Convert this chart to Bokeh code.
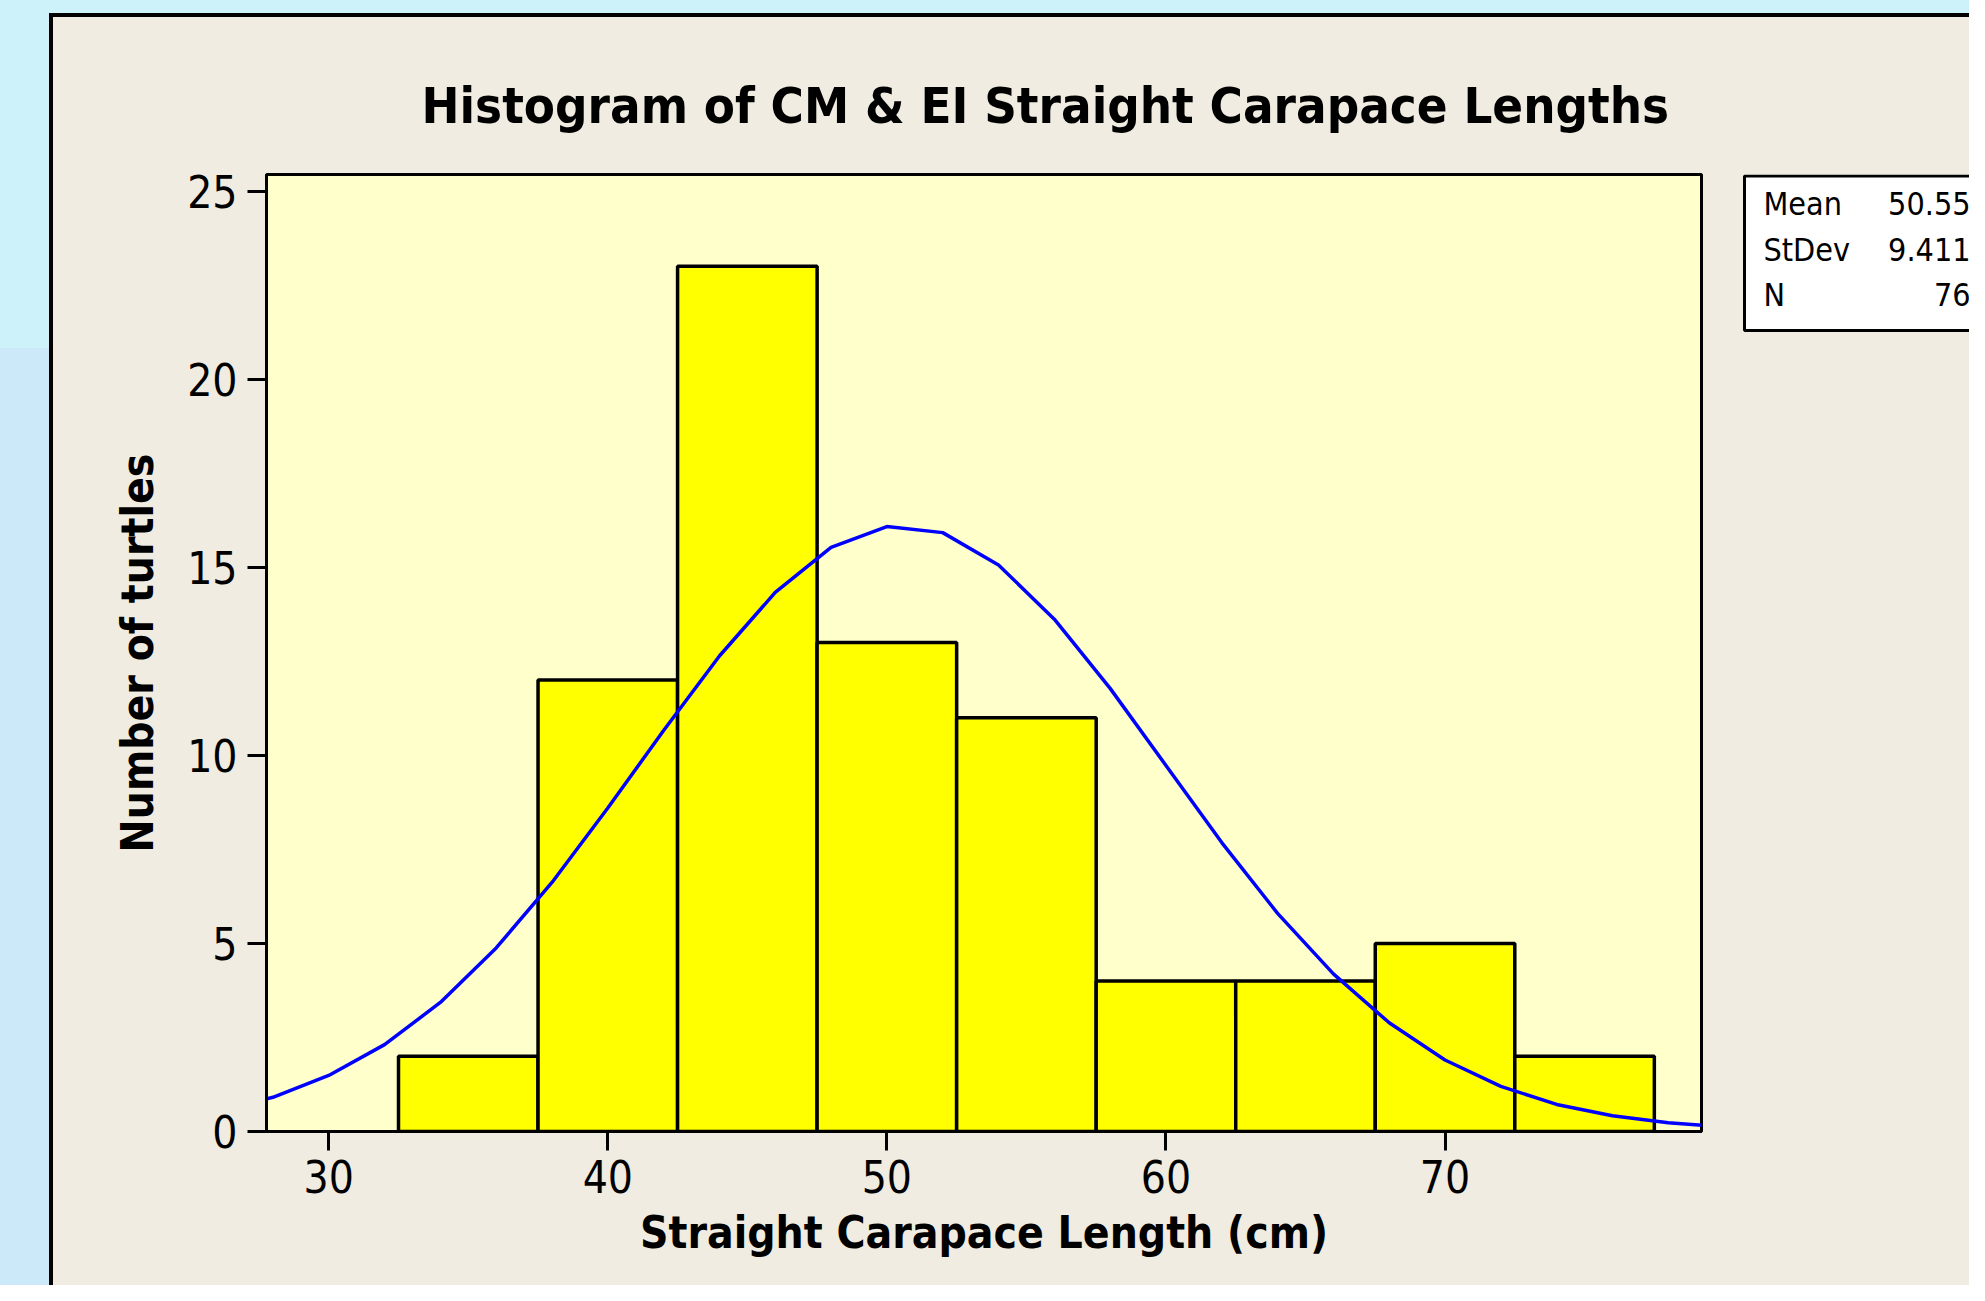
from bokeh.plotting import figure
from bokeh.models import Range1d, FixedTicker
from bokeh.layouts import row
from bokeh.core.properties import value
from bokeh.embed import file_html
from bokeh.resources import INLINE

# ---- data ----
BIN_LEFT = [32.5, 37.5, 42.5, 47.5, 52.5, 57.5, 62.5, 67.5, 72.5]
BIN_RIGHT = [37.5, 42.5, 47.5, 52.5, 57.5, 62.5, 67.5, 72.5, 77.5]
COUNTS = [2, 12, 23, 13, 11, 4, 4, 5, 2]
CURVE_X = [26, 28, 30, 32, 34, 36, 38, 40, 42, 44, 46, 48, 50, 52, 54, 56, 58,
           60, 62, 64, 66, 68, 70, 72, 74, 76, 78, 80]
CURVE_Y = [0.55, 0.91, 1.49, 2.31, 3.43, 4.88, 6.62, 8.60, 10.66, 12.64, 14.33,
           15.53, 16.08, 15.92, 15.06, 13.62, 11.78, 9.73, 7.68, 5.80, 4.19,
           2.89, 1.90, 1.20, 0.72, 0.42, 0.23, 0.12]
X_TICKS = [30, 40, 50, 60, 70]
Y_TICKS = [0, 5, 10, 15, 20, 25]
STAT_NAMES = ["Mean", "StDev", "N"]
STAT_VALUES = ["50.55", "9.411", "76"]
TITLE = "Histogram of CM & EI Straight Carapace Lengths"
XLABEL = "Straight Carapace Length (cm)"
YLABEL = "Number of turtles"

# ---- page geometry (pixels) ----
W, H = 1969, 1285
FRAME_L, FRAME_R, FRAME_T, FRAME_B = 266, 1701, 174, 1131
MAIN_W = 1720
X0, X1 = 27.77, 79.19
Y0, Y1 = 0.0, 25.44
FONT = "DejaVu Sans Condensed"
BLUE = "#CDF2FA"
BLUE2 = "#CCE9F9"
BEIGE = "#F0ECE2"


def grad(c):
    return "linear-gradient(%s, %s)" % (c, c)


# ---- main chart ----
p = figure(width=MAIN_W, height=H,
           x_range=Range1d(X0, X1), y_range=Range1d(Y0, Y1),
           output_backend="svg", toolbar_location=None,
           min_border_left=FRAME_L, min_border_right=MAIN_W - FRAME_R,
           min_border_top=FRAME_T, min_border_bottom=H - FRAME_B)
p.styles = {
    "background-color": BLUE,
    "background-image": ", ".join([grad(BEIGE), grad("#000000"), grad(BLUE2)]),
    "background-position": "53px 17px, 49px 13px, 0px 348px",
    "background-size": "4000px 4000px, 4000px 4000px, 49px 4000px",
    "background-repeat": "no-repeat",
}
p.border_fill_alpha = 0
p.background_fill_color = "#FFFFCC"
p.outline_line_color = "black"
p.outline_line_width = 3
p.grid.visible = False

p.title.text = TITLE
p.title.align = "left"
p.title.offset = 155
p.title.standoff = 80
p.title.text_font = FONT
p.title.text_font_style = "bold"
p.title.text_font_size = "50.5px"
p.title.text_color = "black"

p.quad(left=BIN_LEFT, right=BIN_RIGHT, top=COUNTS, bottom=0,
       fill_color="#FFFF00", line_color="black", line_width=3.5)
p.line(CURVE_X, CURVE_Y, line_color="#0000FF", line_width=3.5)

for ax in (p.xaxis[0], p.yaxis[0]):
    ax.axis_line_color = "black"
    ax.axis_line_width = 3
    ax.major_tick_line_color = "black"
    ax.major_tick_line_width = 3
    ax.major_tick_out = 19
    ax.major_tick_in = 0
    ax.minor_tick_line_color = None
    ax.major_label_text_font = FONT
    ax.major_label_text_font_size = "44px"
    ax.major_label_text_color = "black"
    ax.axis_label_text_font = FONT
    ax.axis_label_text_font_style = "bold"
    ax.axis_label_text_font_size = "44px"
    ax.axis_label_text_color = "black"

p.xaxis.ticker = FixedTicker(ticks=X_TICKS)
p.yaxis.ticker = FixedTicker(ticks=Y_TICKS)
p.xaxis.axis_label = XLABEL
p.yaxis.axis_label = YLABEL
p.xaxis.major_label_standoff = 9
p.yaxis.major_label_standoff = 10
p.xaxis.axis_label_standoff = 11
p.yaxis.axis_label_standoff = 21

# ---- right part with statistics box (pixel coordinates) ----
side = figure(width=W - MAIN_W, height=H,
              x_range=Range1d(MAIN_W, W), y_range=Range1d(FRAME_B, FRAME_T),
              output_backend="svg", toolbar_location=None, x_axis_type=None, y_axis_type=None,
              min_border_left=0, min_border_right=0,
              min_border_top=FRAME_T, min_border_bottom=H - FRAME_B)
side.title.visible = False
side.outline_line_color = None
side.grid.visible = False
side.styles = {
    "background-color": BLUE,
    "background-image": ", ".join([grad(BEIGE), grad("#000000")]),
    "background-position": "0px 17px, 0px 13px",
    "background-size": "4000px 4000px, 4000px 4000px",
    "background-repeat": "no-repeat",
}
side.border_fill_alpha = 0
side.background_fill_color = BEIGE

side.quad(left=[1744], right=[2000], top=[175.5], bottom=[330],
          fill_color="white", line_color="black", line_width=3)
BASES = [215 - 12, 261 - 12, 306 - 12]
side.text(x=[1763] * 3, y=BASES, text=STAT_NAMES, text_align="left", text_baseline="alphabetic",
          text_font=value(FONT), text_font_size="32px", text_color="black")
side.text(x=[1970] * 3, y=BASES, text=STAT_VALUES, text_align="right", text_baseline="alphabetic",
          text_font=value(FONT), text_font_size="32px", text_color="black")

layout = row(p, side, spacing=0)
open("out.html", "w").write(file_html(layout, INLINE))
